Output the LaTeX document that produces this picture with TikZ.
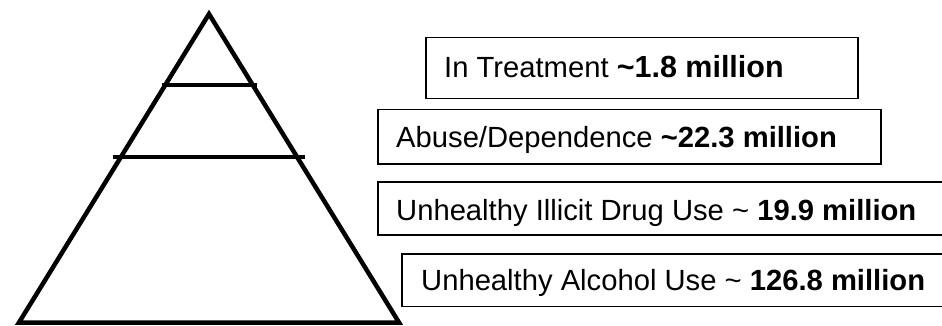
\documentclass[tikz,border=0pt]{standalone}
\usepackage{fontspec}
\setmainfont{Liberation Sans}
\begin{document}
\begin{tikzpicture}[x=1pt,y=-1pt,
  outline/.style={line width=4.5pt, line join=miter},
  tierline/.style={line width=4.5pt},
  labelbox/.style={draw, line width=1.5pt, inner sep=0pt, anchor=north west},
  labeltext/.style={anchor=base west, inner sep=0pt,
    font=\fontsize{29.2}{34}\selectfont},
  big/.style={font=\fontsize{30.5}{34}\selectfont}]
  \useasboundingbox (0,0) rectangle (942,326);
  \clip (0,0) rectangle (942,326);

  % pyramid
  \coordinate (apex) at (209,14);
  \coordinate (bl) at (19,322.5);
  \coordinate (br) at (399,322.5);
  \draw[outline] (apex) -- (bl) -- (br) -- cycle;
  \draw[tierline] (162,85) -- (257,85);
  \draw[tierline] (113,157) -- (305,157);

  % label boxes
  \node[labelbox, minimum width=432pt, minimum height=61pt] (b1) at (425,37) {};
  \node[labelbox, minimum width=503pt, minimum height=54pt] (b2) at (377,109) {};
  \node[labelbox, minimum width=590pt, minimum height=53pt] (b3) at (377,181) {};
  \node[labelbox, minimum width=570pt, minimum height=52.5pt] (b4) at (401,253) {};

  % label texts
  \node[labeltext] (t1) at (444,78)
    {In Treatment {\fontsize{30.5}{34}\selectfont\bfseries\textasciitilde1.8 million}};
  \node[labeltext] (t2) at (396,147)
    {Abuse/Dependence {\bfseries\textasciitilde22.3 million}};
  \node[labeltext] (t3) at (396,220)
    {Unhealthy Illicit Drug Use \textasciitilde{} {\bfseries 19.9 million}};
  \node[labeltext] (t4) at (421,290)
    {Unhealthy Alcohol Use \textasciitilde{} {\bfseries 126.8 million}};
\end{tikzpicture}
\end{document}
